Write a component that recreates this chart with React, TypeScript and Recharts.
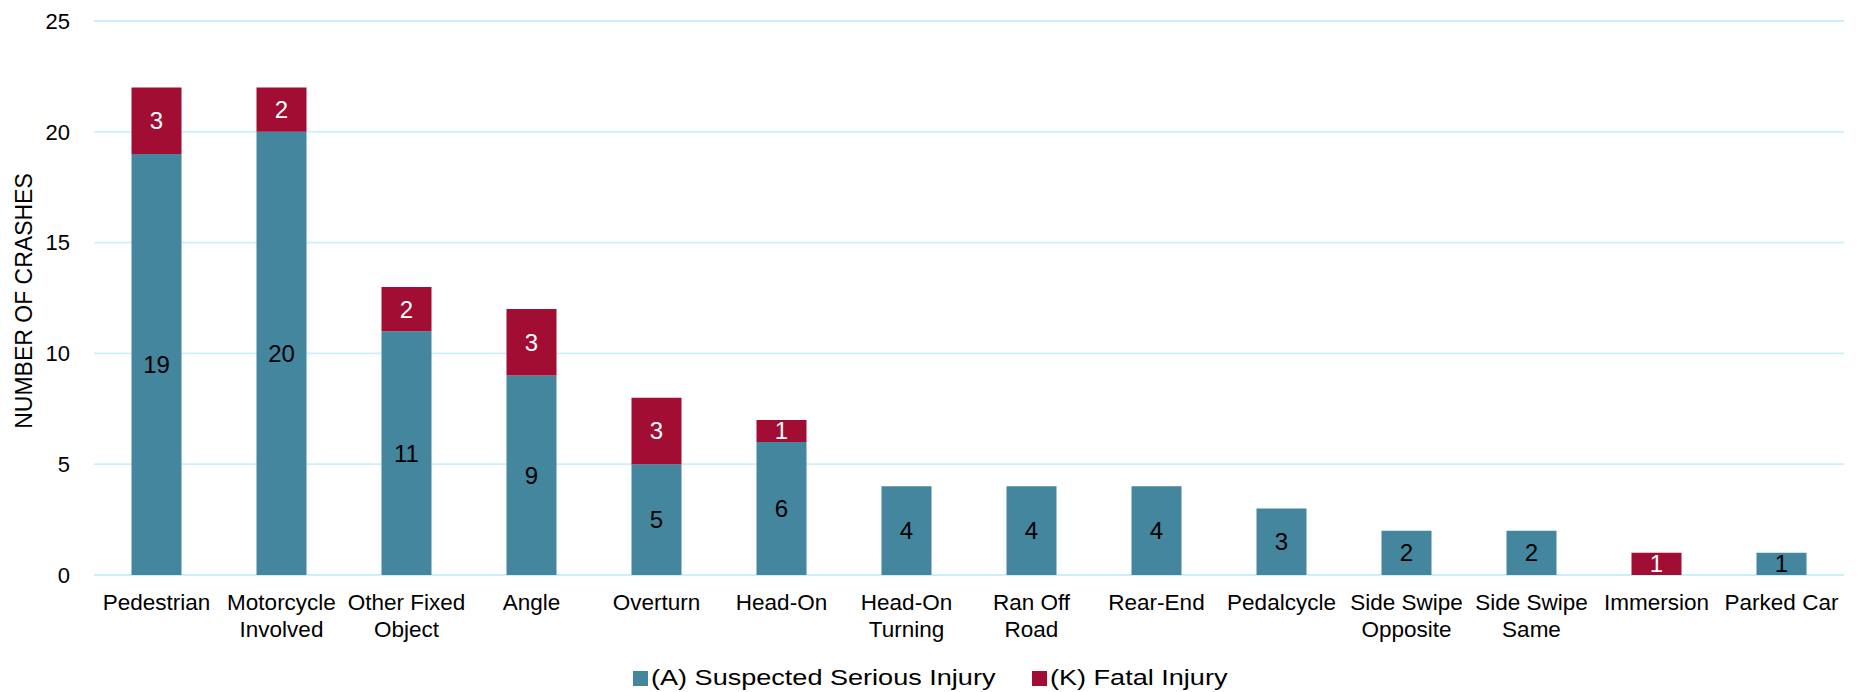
import React from 'react';
import { BarChart, Bar, XAxis, YAxis, CartesianGrid, Legend, LabelList, Label } from 'recharts';

const categories = [
  'Pedestrian',
  'Motorcycle\nInvolved',
  'Other Fixed\nObject',
  'Angle',
  'Overturn',
  'Head-On',
  'Head-On\nTurning',
  'Ran Off\nRoad',
  'Rear-End',
  'Pedalcycle',
  'Side Swipe\nOpposite',
  'Side Swipe\nSame',
  'Immersion',
  'Parked Car',
];
const suspectedSerious: (number | null)[] = [19, 20, 11, 9, 5, 6, 4, 4, 4, 3, 2, 2, null, 1];
const fatal: (number | null)[] = [3, 2, 2, 3, 3, 1, null, null, null, null, null, null, 1, null];
const yTicks = [0, 5, 10, 15, 20, 25];
const seriesNames = ['(A) Suspected Serious Injury', '(K) Fatal Injury'];
const yAxisTitle = 'NUMBER OF CRASHES';

const BLUE = '#43869E';
const RED = '#A20D33';
const GRID = '#CDEFFA';
const FONT = '"Liberation Sans", Arial, sans-serif';

const data = categories.map((c, i) => ({ name: c, A: suspectedSerious[i], K: fatal[i] }));

const CategoryTick = (props: any) => {
  const { x, y, payload } = props;
  const lines = String(payload.value).split('\n');
  return (
    <text x={x} y={y + 35} textAnchor="middle" fontSize={22.5} fontFamily={FONT} fill="#000">
      {lines.map((l: string, i: number) => (
        <tspan key={i} x={x} dy={i === 0 ? 0 : 26.7}>
          {l}
        </tspan>
      ))}
    </text>
  );
};

const YTitle = (props: any) => {
  const vb = props.viewBox || { x: 0, y: 21, width: 94, height: 554 };
  const cy = vb.y + vb.height / 2 + 3;
  return (
    <text
      transform={`translate(${vb.x + 32}, ${cy}) rotate(-90)`}
      textAnchor="middle"
      fontSize={23}
      fontFamily={FONT}
      fill="#000"
    >
      {yAxisTitle}
    </text>
  );
};

const legendColors = [BLUE, RED];
const legendWidths = [363, 197];

const renderLegend = () => (
  <div
    style={{
      display: 'flex',
      justifyContent: 'center',
      alignItems: 'center',
      height: 28,
      fontFamily: FONT,
      fontSize: 22,
      color: '#000',
    }}
  >
    {seriesNames.map((n, i) => (
      <div
        key={n}
        style={{
          display: 'flex',
          alignItems: 'center',
          width: legendWidths[i],
          marginRight: i === 0 ? 36 : 0,
          whiteSpace: 'nowrap',
        }}
      >
        <span style={{ display: 'inline-block', width: 15, height: 15, background: legendColors[i], marginRight: 3 }} />
        <span style={{ display: 'inline-block', transform: 'scaleX(1.23)', transformOrigin: 'left center' }}>{n}</span>
      </div>
    ))}
  </div>
);

const fmt = (v: any) => (v ? v : '');

export default function App() {
  return (
    <div style={{ position: 'absolute', left: 0, top: 0, width: 1862, height: 692, overflow: 'hidden', background: '#fff' }}>
      <BarChart
        width={1862}
        height={692}
        data={data}
        margin={{ top: 21, right: 18, bottom: 0, left: 0 }}
        barCategoryGap="30%"
      >
        <CartesianGrid vertical={false} stroke={GRID} strokeWidth={1.8} />
        <XAxis
          dataKey="name"
          interval={0}
          axisLine={false}
          tickLine={false}
          tickSize={0}
          tickMargin={0}
          height={89}
          tick={<CategoryTick />}
        />
        <YAxis
          domain={[0, 25]}
          ticks={yTicks}
          axisLine={false}
          tickLine={false}
          tickMargin={18}
          width={94}
          tick={{ fontSize: 22, fontFamily: FONT, fill: '#000' }}
        >
          <Label content={<YTitle />} />
        </YAxis>
        <Legend
          verticalAlign="bottom"
          height={28}
          content={renderLegend}
          wrapperStyle={{ left: 0, width: 1862 }}
        />
        <Bar dataKey="A" name={seriesNames[0]} stackId="s" fill={BLUE} isAnimationActive={false}>
          <LabelList dataKey="A" position="center" formatter={fmt} fill="#000" fontSize={24} fontFamily={FONT} />
        </Bar>
        <Bar dataKey="K" name={seriesNames[1]} stackId="s" fill={RED} isAnimationActive={false}>
          <LabelList dataKey="K" position="center" formatter={fmt} fill="#fff" fontSize={24} fontFamily={FONT} />
        </Bar>
      </BarChart>
    </div>
  );
}
